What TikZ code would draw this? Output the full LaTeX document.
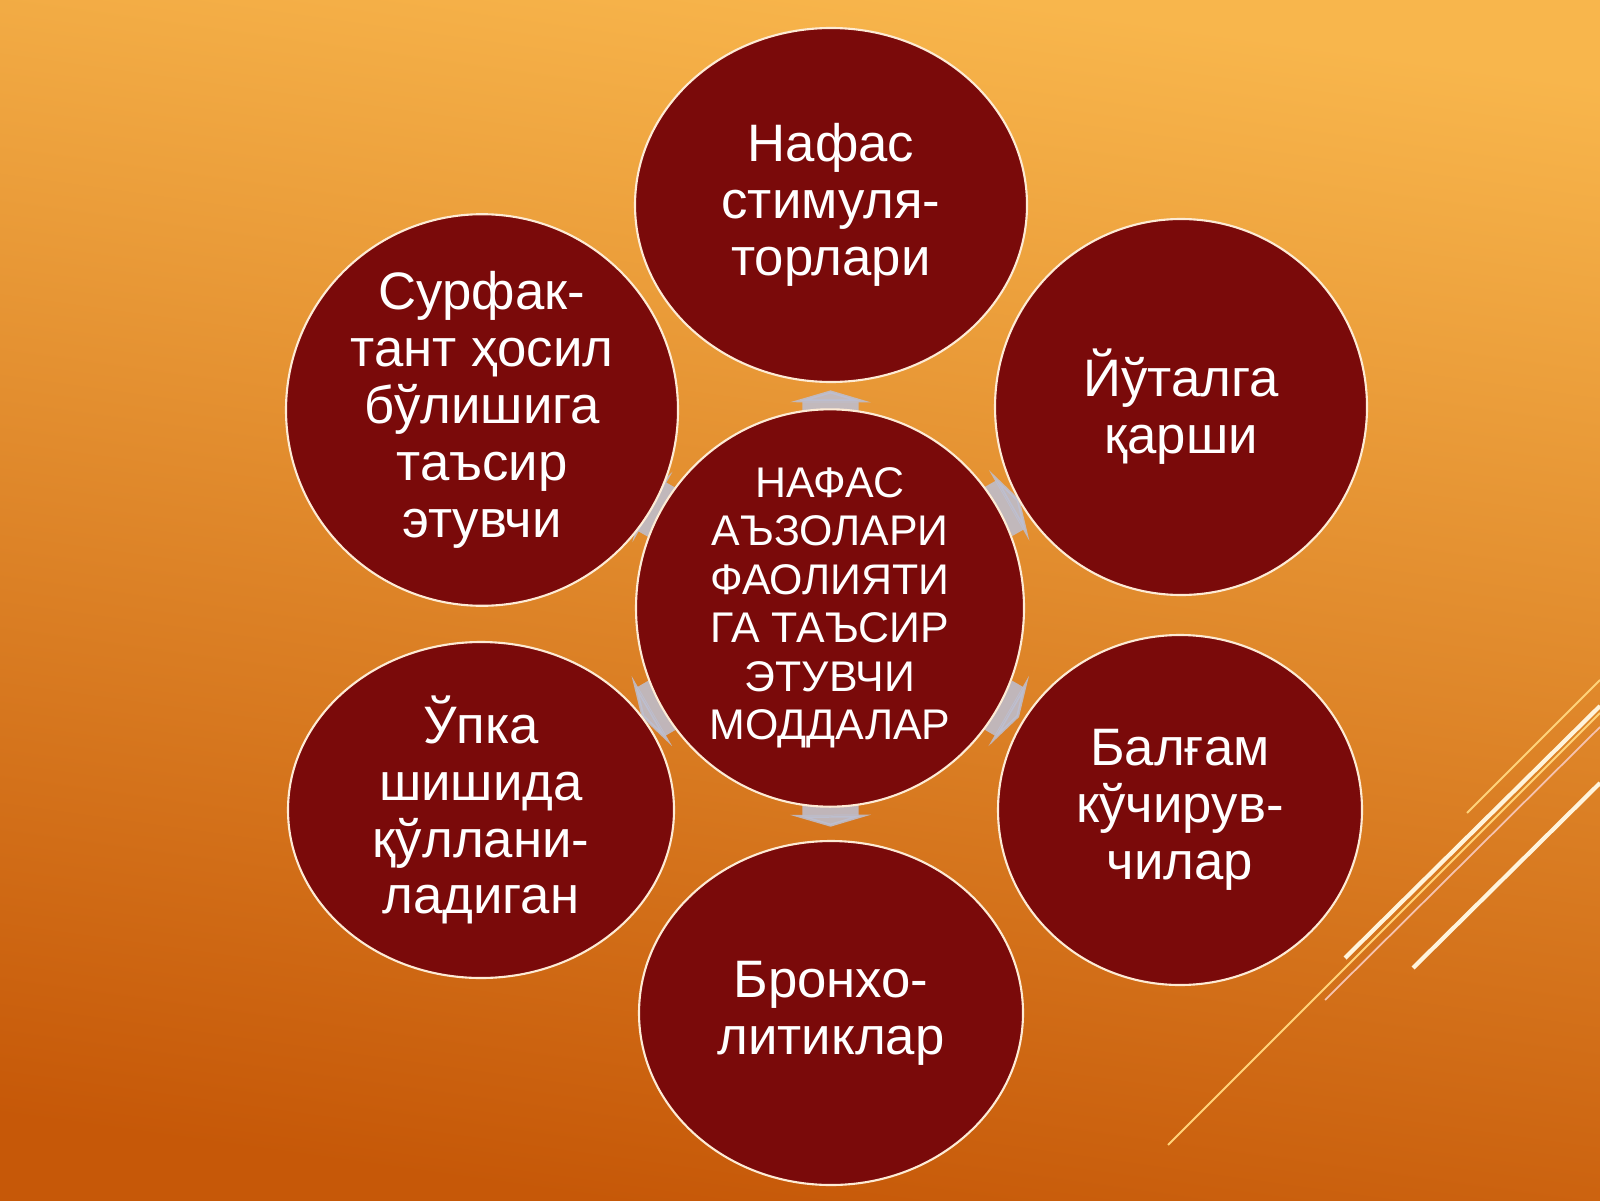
\documentclass[tikz,border=0pt]{standalone}
\usepackage{fontspec}
\setmainfont{Liberation Sans}
\usetikzlibrary{shapes.geometric,arrows.meta,calc,backgrounds}
\definecolor{bgtop}{HTML}{F8B64C}
\definecolor{bgmid}{HTML}{E6902E}
\definecolor{bgbot}{HTML}{C65808}
\definecolor{bubblered}{HTML}{7A0A0A}
\definecolor{rim}{HTML}{FDEBD5}
\definecolor{spokecol}{HTML}{BCC0D4}
\definecolor{streak}{HTML}{FFD37A}
\definecolor{streakpink}{HTML}{F6C3B0}
\definecolor{streakwhite}{HTML}{FFF4DC}
\tikzset{
    bubble/.style={ellipse, fill=bubblered, draw=rim, line width=0.6pt, text=white, align=center, inner sep=0pt},
    outer/.style={bubble, font=\fontsize{15}{16.2}\selectfont},
    hubtext/.style={bubble, font=\fontsize{12.2}{13.8}\selectfont},
    spoke/.style={draw=spokecol, opacity=0.85, line width=16pt, -{Triangle[width=23pt,length=3.4pt]}},
}
\begin{document}
\begin{tikzpicture}
    \useasboundingbox (0,0) rectangle (16,12);
    %centre
    \node[hubtext, minimum width=3.88cm, minimum height=3.70cm] (hub) at (8.30, 5.92)
        {НАФАС\\АЪЗОЛАРИ\\ФАОЛИЯТИ\\ГА ТАЪСИР\\ЭТУВЧИ\\МОДДАЛАР};
    %outer ring
    \node[outer, minimum width=3.92cm, minimum height=3.54cm] (stim) at (8.31, 9.95) {Нафас\\стимуля-\\торлари};
    \node[outer, minimum width=3.72cm, minimum height=3.76cm] (cough) at (11.81, 7.93) {Йўталга\\қарши};
    \node[outer, minimum width=3.64cm, minimum height=3.50cm] (sputum) at (11.80, 3.90) {Балғам\\кўчирув-\\чилар};
    \node[outer, minimum width=3.84cm, minimum height=3.44cm] (broncho) at (8.31, 1.87) {Бронхо-\\литиклар};
    \node[outer, minimum width=3.86cm, minimum height=3.36cm] (lung) at (4.81, 3.90) {Ўпка\\шишида\\қўллани-\\ладиган};
    \node[outer, minimum width=3.92cm, minimum height=3.42cm] (surf) at (4.82, 7.90) {Сурфак-\\тант ҳосил\\бўлишига\\таъсир\\этувчи};
    \begin{scope}[on background layer]
        %background
        \fill[top color=bgtop, middle color=bgmid, bottom color=bgbot, shading angle=-8] (0,0) rectangle (16,12);
        %lines on the right
        \draw[streak, line width=0.55pt] (14.67, 3.87) -- (16, 5.20);
        \draw[streakwhite, line width=1.2pt] (13.45, 2.42) -- (16, 4.94);
        \draw[streak, line width=0.55pt] (11.68, 0.55) -- (16, 4.87);
        \draw[streakpink, line width=0.5pt] (13.25, 2.00) -- (16, 4.73);
        \draw[streakwhite, line width=1.2pt] (14.13, 2.32) -- (16, 4.17);
        %spokes
        \foreach \o in {stim,cough,sputum,broncho,lung,surf}
            \draw[spoke] ($(hub.center)!0.48!(\o.center)$) -- ($(hub.center)!0.54!(\o.center)$);
    \end{scope}
\end{tikzpicture}
\end{document}
